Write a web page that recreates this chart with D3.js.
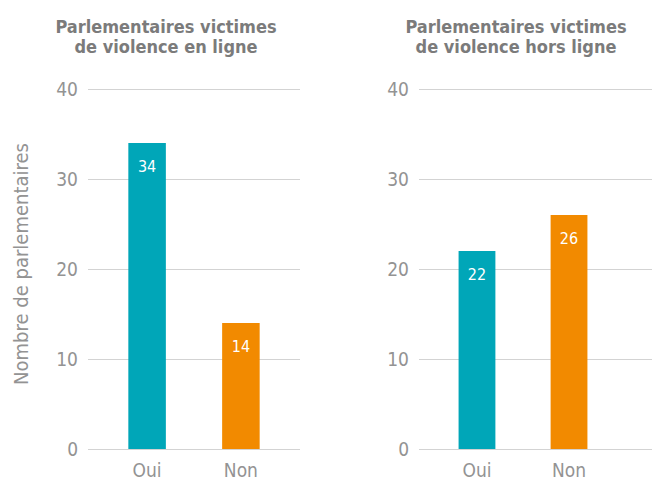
<!DOCTYPE html>
<html>
<head>
<meta charset="utf-8">
<script src="https://cdn.jsdelivr.net/npm/d3@7"></script>
<style>
  body { margin: 0; background: #fff; }
  svg text { font-family: "Liberation Sans Narrow", "DejaVu Sans Condensed", "Roboto", sans-serif; }
</style>
</head>
<body>
<div id="chart"></div>
<script>
// values
const categories = ['Oui', 'Non'];
const titles = [
    ['Parlementaires victimes', 'de violence en ligne'],
    ['Parlementaires victimes', 'de violence hors ligne'],
];
const enLigne = [34, 14];
const horsLigne = [22, 26];
const yTicks = [0, 10, 20, 30, 40];
const colors = ['#00a6b8', '#f28a00'];

const width = 652, height = 484;
const svg = d3.select('#chart').append('svg')
    .attr('width', width)
    .attr('height', height);

const y = d3.scaleLinear().domain([0, 40]).range([449, 89]);

const panels = [
    { title: titles[0], values: enLigne, x0: 88, x1: 300, gridEnd: 300, titleX: 166 },
    { title: titles[1], values: horsLigne, x0: 419, x1: 627, gridEnd: 652, titleX: 516 },
];

panels.forEach((p) => {
    const g = svg.append('g');

    const x = d3.scaleBand()
        .domain(categories)
        .range([p.x0, p.x1])
        .paddingInner(0.6)
        .paddingOuter(0.43);

    // title
    g.append('text')
        .attr('x', p.titleX)
        .attr('y', 33)
        .attr('text-anchor', 'middle')
        .attr('font-size', '18px')
        .attr('font-weight', 'bold')
        .attr('fill', '#7b7b7b')
        .selectAll('tspan')
        .data(p.title)
        .enter()
        .append('tspan')
        .attr('x', p.titleX)
        .attr('dy', (d, i) => (i === 0 ? 0 : 20))
        .text((d) => d);

    // grid + y labels
    const yAxis = d3.axisLeft(y)
        .tickValues(yTicks)
        .tickSize(-(p.gridEnd - p.x0))
        .tickPadding(10);

    const ax = g.append('g')
        .attr('transform', `translate(${p.x0},0)`)
        .call(yAxis);
    ax.select('.domain').remove();
    ax.selectAll('.tick line')
        .attr('stroke', '#d3d3d3')
        .attr('stroke-width', 1.2);
    ax.selectAll('.tick text')
        .attr('font-size', '19px')
        .attr('fill', '#939393')
        .attr('font-family', null);

    // bars
    g.selectAll('rect')
        .data(p.values)
        .enter()
        .append('rect')
        .attr('x', (d, i) => x(categories[i]))
        .attr('y', (d) => y(d))
        .attr('width', x.bandwidth())
        .attr('height', (d) => y(0) - y(d))
        .attr('fill', (d, i) => colors[i]);

    // value labels
    g.selectAll('.val')
        .data(p.values)
        .enter()
        .append('text')
        .attr('class', 'val')
        .attr('x', (d, i) => x(categories[i]) + x.bandwidth() / 2)
        .attr('y', (d) => y(d) + 29)
        .attr('text-anchor', 'middle')
        .attr('font-size', '16px')
        .attr('fill', '#ffffff')
        .text((d) => d);

    // category labels
    g.selectAll('.cat')
        .data(categories)
        .enter()
        .append('text')
        .attr('class', 'cat')
        .attr('x', (d) => x(d) + x.bandwidth() / 2)
        .attr('y', 477)
        .attr('text-anchor', 'middle')
        .attr('font-size', '19px')
        .attr('fill', '#939393')
        .text((d) => d);
});

// y axis title
svg.append('text')
    .attr('transform', 'translate(28,264) rotate(-90)')
    .attr('text-anchor', 'middle')
    .attr('font-size', '20px')
    .attr('fill', '#939393')
    .text('Nombre de parlementaires');
</script>
</body>
</html>
